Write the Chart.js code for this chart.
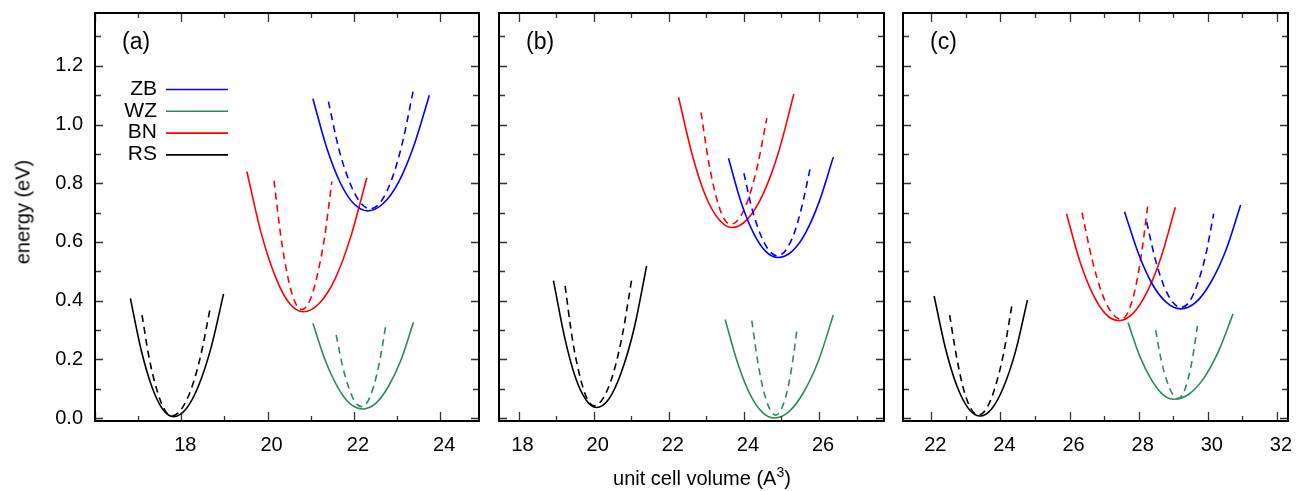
<!DOCTYPE html>
<html>
<head>
<meta charset="utf-8">
<script src="https://cdn.jsdelivr.net/npm/chart.js@4.4.1/dist/chart.umd.min.js"></script>
<style>
  body { margin:0; background:#fff; width:1298px; height:491px; overflow:hidden; position:relative; font-family:"Liberation Sans", Arial, sans-serif; }
  canvas { position:absolute; left:0; top:0; }
  .ytitle { position:absolute; left:23px; top:212px; transform:translate(-50%,-50%) rotate(-90deg); font-size:20px; white-space:nowrap; color:#000; }
  .xtitle { position:absolute; left:702px; top:478px; transform:translate(-50%,-50%); font-size:20px; white-space:nowrap; color:#000; }
  .sup { position:relative; top:-8px; font-size:14px; }
</style>
</head>
<body>
<canvas id="ca" width="1298" height="491"></canvas>
<canvas id="cb" width="1298" height="491"></canvas>
<canvas id="cc" width="1298" height="491"></canvas>
<div class="ytitle">energy (eV)</div>
<div class="xtitle">unit cell volume (A<span class="sup">3</span>)</div>
<script>
const phases = ['ZB', 'WZ', 'BN', 'RS'];
const colors = { ZB: '#0000ff', WZ: '#2e8b57', BN: '#ff0000', RS: '#000000' };

// y axis (shared)
const yRange = [-0.01, 1.38];
const yLabels = ['0.0', '0.2', '0.4', '0.6', '0.8', '1.0', '1.2'];

// panel (a)
const aXRange = [16, 24.9];
const aXLabels = [18, 20, 22, 24];
const aZB  = [[21.05,1.088],[21.37,0.921],[21.69,0.80],[22.00,0.73],[22.32,0.706],[22.68,0.731],[23.04,0.805],[23.39,0.928],[23.75,1.10]];
const aZBd = [[21.41,1.078],[21.65,0.918],[21.90,0.804],[22.14,0.736],[22.38,0.713],[22.63,0.738],[22.88,0.814],[23.13,0.941],[23.38,1.118]];
const aWZ  = [[21.05,0.323],[21.34,0.195],[21.63,0.104],[21.91,0.049],[22.20,0.031],[22.50,0.049],[22.79,0.105],[23.09,0.197],[23.38,0.326]];
const aWZd = [[21.59,0.283],[21.74,0.176],[21.89,0.10],[22.03,0.054],[22.18,0.039],[22.32,0.056],[22.46,0.109],[22.60,0.195],[22.74,0.317]];
const aBN  = [[19.52,0.84],[19.85,0.631],[20.18,0.482],[20.50,0.392],[20.83,0.362],[21.20,0.391],[21.57,0.476],[21.93,0.619],[22.30,0.819]];
const aBNd = [[20.15,0.808],[20.31,0.616],[20.47,0.48],[20.63,0.397],[20.79,0.37],[20.97,0.397],[21.14,0.479],[21.32,0.615],[21.49,0.806]];
const aRS  = [[16.82,0.408],[17.07,0.232],[17.32,0.106],[17.57,0.030],[17.82,0.005],[18.11,0.031],[18.40,0.110],[18.69,0.240],[18.98,0.423]];
const aRSd = [[17.09,0.351],[17.26,0.201],[17.44,0.093],[17.61,0.029],[17.78,0.007],[18.00,0.03],[18.23,0.099],[18.45,0.213],[18.67,0.374]];

// panel (b)
const bXRange = [17.48, 27.73];
const bXLabels = [18, 20, 22, 24, 26];
const bZB  = [[23.59,0.885],[23.92,0.737],[24.25,0.632],[24.58,0.568],[24.91,0.547],[25.28,0.568],[25.65,0.633],[26.01,0.739],[26.38,0.889]];
const bZBd = [[24.00,0.834],[24.22,0.711],[24.45,0.623],[24.67,0.571],[24.89,0.553],[25.11,0.571],[25.33,0.627],[25.54,0.719],[25.76,0.848]];
const bWZ  = [[23.50,0.336],[23.83,0.189],[24.15,0.084],[24.48,0.021],[24.80,0.0],[25.20,0.022],[25.59,0.088],[25.99,0.197],[26.38,0.351]];
const bWZd = [[24.21,0.332],[24.37,0.191],[24.53,0.09],[24.69,0.03],[24.85,0.01],[24.99,0.029],[25.14,0.085],[25.28,0.178],[25.42,0.308]];
const bBN  = [[22.26,1.093],[22.62,0.899],[22.97,0.76],[23.33,0.677],[23.68,0.649],[24.09,0.677],[24.51,0.763],[24.92,0.905],[25.33,1.104]];
const bBNd = [[22.86,1.041],[23.06,0.874],[23.26,0.755],[23.45,0.684],[23.65,0.66],[23.89,0.683],[24.13,0.751],[24.37,0.864],[24.61,1.022]];
const bRS  = [[18.93,0.468],[19.22,0.279],[19.50,0.144],[19.79,0.063],[20.07,0.036],[20.41,0.066],[20.74,0.157],[21.08,0.307],[21.41,0.518]];
const bRSd = [[19.24,0.45],[19.43,0.272],[19.63,0.144],[19.82,0.068],[20.01,0.042],[20.26,0.069],[20.52,0.151],[20.77,0.287],[21.02,0.478]];

// panel (c)
const cXRange = [21.18, 32.32];
const cXLabels = [22, 24, 26, 28, 30, 32];
const cZB  = [[27.59,0.703],[28.00,0.558],[28.40,0.455],[28.81,0.393],[29.21,0.372],[29.65,0.394],[30.08,0.461],[30.52,0.571],[30.95,0.726]];
const cZBd = [[28.23,0.668],[28.48,0.541],[28.73,0.45],[28.98,0.395],[29.23,0.377],[29.47,0.397],[29.70,0.457],[29.94,0.556],[30.17,0.696]];
const cWZ  = [[27.69,0.326],[28.03,0.211],[28.37,0.13],[28.70,0.08],[29.04,0.064],[29.46,0.082],[29.89,0.137],[30.31,0.228],[30.73,0.355]];
const cWZd = [[28.49,0.30],[28.65,0.198],[28.82,0.125],[28.98,0.082],[29.14,0.067],[29.28,0.082],[29.42,0.129],[29.56,0.206],[29.70,0.314]];
const cBN  = [[25.91,0.696],[26.29,0.537],[26.67,0.423],[27.04,0.355],[27.42,0.332],[27.83,0.356],[28.24,0.429],[28.65,0.549],[29.06,0.718]];
const cBNd = [[26.36,0.70],[26.65,0.541],[26.93,0.427],[27.22,0.359],[27.50,0.336],[27.69,0.361],[27.89,0.435],[28.08,0.559],[28.27,0.732]];
const cRS  = [[22.08,0.416],[22.41,0.237],[22.74,0.109],[23.07,0.033],[23.40,0.007],[23.75,0.032],[24.09,0.106],[24.44,0.229],[24.78,0.402]];
const cRSd = [[22.53,0.351],[22.74,0.202],[22.94,0.095],[23.15,0.031],[23.35,0.01],[23.60,0.033],[23.84,0.103],[24.09,0.22],[24.33,0.383]];

const FONT = '"Liberation Sans", Arial, sans-serif';

// frame + inward ticks on all four sides (gnuplot style)
const frame = {
  id: 'frame',
  afterDatasetsDraw(chart) {
    const { ctx, chartArea: a, scales: { x, y } } = chart;
    ctx.save();
    ctx.strokeStyle = '#333';
    ctx.lineWidth = 1.3;
    ctx.beginPath();
    for (let v = Math.ceil(x.min); v <= x.max + 1e-9; v++) {
      const px = Math.round(x.getPixelForValue(v)) + 0.5;
      const len = v % 2 === 0 ? 9 : 5;
      ctx.moveTo(px, a.bottom); ctx.lineTo(px, a.bottom - len);
      ctx.moveTo(px, a.top); ctx.lineTo(px, a.top + len);
    }
    for (let i = Math.ceil(y.min * 10); i <= Math.floor(y.max * 10 + 1e-9); i++) {
      const py = Math.round(y.getPixelForValue(i / 10)) + 0.5;
      const len = i % 2 === 0 ? 8 : 6;
      ctx.moveTo(a.left, py); ctx.lineTo(a.left + len, py);
      ctx.moveTo(a.right, py); ctx.lineTo(a.right - len, py);
    }
    ctx.stroke();
    ctx.strokeStyle = '#000';
    ctx.lineWidth = 2;
    ctx.strokeRect(a.left, a.top, a.right - a.left, a.bottom - a.top);
    // panel tag
    ctx.fillStyle = '#000';
    ctx.font = '23px ' + FONT;
    ctx.textAlign = 'left';
    ctx.textBaseline = 'middle';
    ctx.fillText(chart.options.plugins.frame.tag, a.left + 27, a.top + 30);
    ctx.restore();
  }
};

// key in panel (a): text left of a short line
const keyBox = {
  id: 'keyBox',
  afterDatasetsDraw(chart) {
    if (!chart.options.plugins.keyBox.show) return;
    const { ctx, chartArea: a } = chart;
    ctx.save();
    ctx.font = '21px ' + FONT;
    ctx.textAlign = 'right';
    ctx.textBaseline = 'middle';
    phases.forEach((p, i) => {
      const yy = a.top + 76 + i * 21.8;
      ctx.fillStyle = '#000';
      ctx.fillText(p, a.left + 62, yy);
      ctx.strokeStyle = colors[p];
      ctx.lineWidth = 1.6;
      ctx.beginPath();
      ctx.moveTo(a.left + 71, yy + 0.5);
      ctx.lineTo(a.left + 133, yy + 0.5);
      ctx.stroke();
    });
    ctx.restore();
  }
};

function makePanel(id, curves, xRange, xLabels, pad, tag, yLabelsOn) {
  const datasets = [];
  phases.forEach(p => {
    const [solid, dashed] = curves[p];
    datasets.push({ label: p, data: solid.map(d => ({ x: d[0], y: d[1] })), borderColor: colors[p], borderWidth: 1.6 });
    datasets.push({ label: p + ' dashed', data: dashed.map(d => ({ x: d[0], y: d[1] })), borderColor: colors[p], borderWidth: 1.6, borderDash: [7, 5] });
  });
  datasets.forEach(d => { d.pointRadius = 0; d.fill = false; d.cubicInterpolationMode = 'monotone'; });

  return new Chart(document.getElementById(id), {
    type: 'line',
    data: { datasets },
    plugins: [frame, keyBox],
    options: {
      responsive: false,
      animation: false,
      events: [],
      layout: { padding: pad },
      plugins: {
        legend: { display: false },
        tooltip: { enabled: false },
        frame: { tag },
        keyBox: { show: tag === '(a)' }
      },
      scales: {
        x: {
          type: 'linear', min: xRange[0], max: xRange[1],
          grid: { display: false, drawTicks: false },
          border: { display: false },
          afterFit: s => { s.height = 70; s.paddingLeft = 0; s.paddingRight = 0; },
          ticks: {
            stepSize: 1, autoSkip: false, includeBounds: false, maxRotation: 0,
            padding: 12, labelOffset: 4,
            color: '#000', font: { family: FONT, size: 20 },
            callback: v => xLabels.includes(Math.round(v)) && Math.abs(v - Math.round(v)) < 1e-6 ? String(Math.round(v)) : ''
          }
        },
        y: {
          type: 'linear', min: yRange[0], max: yRange[1],
          grid: { display: false, drawTicks: false },
          border: { display: false },
          afterFit: s => { s.width = yLabelsOn ? 95 : 0; s.paddingTop = 0; s.paddingBottom = 0; },
          ticks: {
            display: yLabelsOn,
            stepSize: 0.1, autoSkip: false, includeBounds: false,
            padding: 12,
            color: '#000', font: { family: FONT, size: 20 },
            callback: v => {
              const s = v.toFixed(1);
              return yLabels.includes(s) ? s : '';
            }
          }
        }
      }
    }
  });
}

makePanel('ca', { ZB: [aZB, aZBd], WZ: [aWZ, aWZd], BN: [aBN, aBNd], RS: [aRS, aRSd] },
  aXRange, aXLabels, { left: 0, right: 819, top: 13, bottom: 0 }, '(a)', true);
makePanel('cb', { ZB: [bZB, bZBd], WZ: [bWZ, bWZd], BN: [bBN, bBNd], RS: [bRS, bRSd] },
  bXRange, bXLabels, { left: 499, right: 414, top: 13, bottom: 0 }, '(b)', false);
makePanel('cc', { ZB: [cZB, cZBd], WZ: [cWZ, cWZd], BN: [cBN, cBNd], RS: [cRS, cRSd] },
  cXRange, cXLabels, { left: 903, right: 10, top: 13, bottom: 0 }, '(c)', false);
</script>
</body>
</html>
